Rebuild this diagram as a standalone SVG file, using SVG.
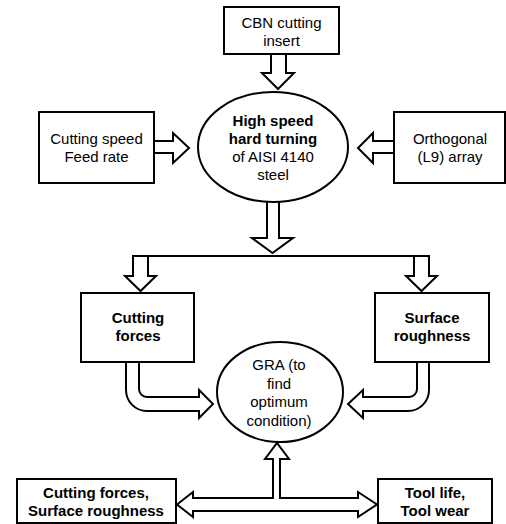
<svg xmlns="http://www.w3.org/2000/svg" width="506" height="524" viewBox="0 0 506 524">
<style>
.box{fill:#fff;stroke:#000;stroke-width:2}
.arr{fill:#fff;stroke:#000;stroke-width:2;stroke-linejoin:miter}
.ln{fill:none;stroke:#000;stroke-width:2}
text{font-family:"Liberation Sans",Arial,sans-serif;font-size:15px;text-anchor:middle;fill:#000}
.b{font-weight:bold}
</style>
<rect width="506" height="524" fill="#fff"/>
<g id="connectors">
<polygon class="arr" points="271,54 271,73 262,73 278,89 294,73 286,73 286,54"/>
<polygon class="arr" points="154,141 173,141 173,133 189,148 173,163 173,153 154,153"/>
<polygon class="arr" points="394,141 373,141 373,133 358,148 373,163 373,153 394,153"/>
<polygon class="arr" points="267,201 267,238 252,238 272.5,253 293,238 279,238 279,201"/>
<polyline class="arr" points="133,256 133,276 125,276 140.5,291 156,276 148,276 148,256"/>
<polyline class="arr" points="414,256 414,276 406,276 421.5,291 437,276 429,276 429,256"/>
<line class="ln" x1="132" y1="256" x2="430" y2="256"/>
<path class="arr" d="M126,362 L126,390 A21,21 0 0 0 147,411 L199,411 L199,418 L213,404 L199,390 L199,397 L147,397 A8,8 0 0 1 139,389 L139,362"/>
<path class="arr" d="M429,362 L429,390 A21,21 0 0 1 408,411 L363,411 L363,418 L348,404 L363,390 L363,397 L409,397 A8,8 0 0 0 417,389 L417,362"/>
<path class="arr" d="M273,459 L265,459 L277,443 L289,459 L280,459 L280,498 L358,498 L358,492 L377,504.5 L358,517 L358,511 L193,511 L193,517 L177,504.5 L193,492 L193,498 L273,498 Z"/>
</g>
<g id="cbn">
<rect class="box" x="224" y="7" width="115" height="47"/>
<text x="281.5" y="28">CBN cutting</text>
<text x="281.5" y="46">insert</text>
</g>
<g id="turning">
<ellipse class="box" cx="273" cy="147" rx="75" ry="55"/>
<text class="b" x="273" y="126">High speed</text>
<text class="b" x="273" y="144">hard turning</text>
<text x="273" y="162">of AISI 4140</text>
<text x="273" y="180">steel</text>
</g>
<g id="params">
<rect class="box" x="39" y="112" width="115" height="71"/>
<text x="96.5" y="144">Cutting speed</text>
<text x="96.5" y="162">Feed rate</text>
</g>
<g id="array">
<rect class="box" x="394" y="112" width="111" height="71"/>
<text x="450" y="144">Orthogonal</text>
<text x="450" y="162">(L9) array</text>
</g>
<g id="forces">
<rect class="box" x="81" y="293" width="113" height="69"/>
<text class="b" x="138" y="323">Cutting</text>
<text class="b" x="138" y="341">forces</text>
</g>
<g id="roughness">
<rect class="box" x="375" y="293" width="114" height="69"/>
<text class="b" x="432" y="323">Surface</text>
<text class="b" x="432" y="341">roughness</text>
</g>
<g id="gra">
<ellipse class="box" cx="280" cy="392" rx="63" ry="50"/>
<text x="279" y="370">GRA (to</text>
<text x="279" y="388.5">find</text>
<text x="279" y="407">optimum</text>
<text x="279" y="425.5">condition)</text>
</g>
<g id="out-left">
<rect class="box" x="17" y="479" width="159" height="44"/>
<text class="b" x="96" y="498">Cutting forces,</text>
<text class="b" x="96" y="516">Surface roughness</text>
</g>
<g id="out-right">
<rect class="box" x="378" y="479" width="114" height="44"/>
<text class="b" x="435" y="498">Tool life,</text>
<text class="b" x="435" y="516">Tool wear</text>
</g>
</svg>
